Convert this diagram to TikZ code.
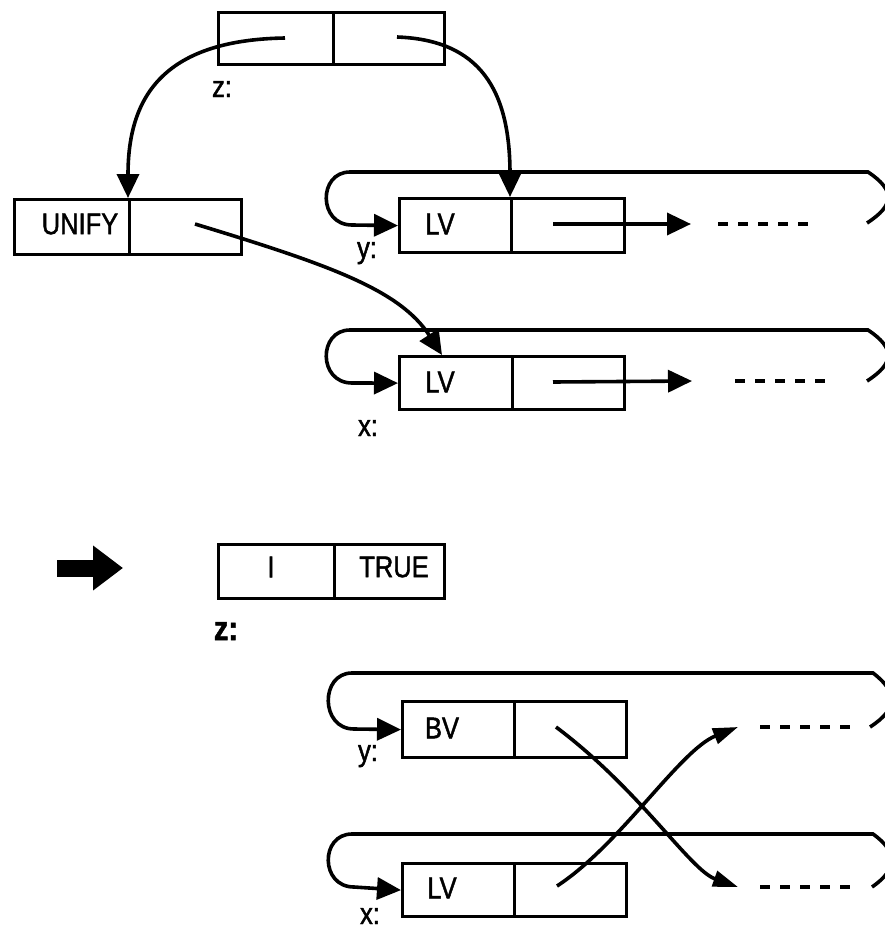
\documentclass[tikz,border=0pt]{standalone}
\usepackage{fontspec}
\setmainfont{Liberation Sans}[FakeStretch=0.85, FakeBold=1.5]
\usetikzlibrary{arrows.meta}
\tikzset{
  cell/.style={draw, line width=3.2pt, inner sep=0pt, anchor=north west},
  lbl/.style={font=\fontsize{30}{32}\selectfont, inner sep=0pt},
  conn/.style={line width=3.6pt, -{Triangle[length=24pt,width=22pt]}},
  thin conn/.style={line width=3.6pt, -{Triangle[length=25pt,width=16pt]}},
  loopline/.style={line width=3.6pt, -{Triangle[length=24pt,width=22pt]}},
  dashline/.style={line width=4.5pt, dash pattern=on 10pt off 10pt},
}
\begin{document}
\begin{tikzpicture}[x=1pt, y=-1pt]
\clip (0,0) rectangle (885,929);
\fill[white] (0,0) rectangle (885,929);

% ---- cells ----
\node[cell, minimum width=115pt, minimum height=52pt] (zL) at (217,11) {};
\node[cell, minimum width=111pt, minimum height=52pt] (zR) at (332,11) {};
\node[cell, minimum width=115pt, minimum height=55pt] (uL) at (13,198) {};
\node[cell, minimum width=112pt, minimum height=55pt] (uR) at (128,198) {};
\node[cell, minimum width=112pt, minimum height=54pt] (yL) at (398,197) {};
\node[cell, minimum width=113pt, minimum height=54pt] (yR) at (510,197) {};
\node[cell, minimum width=113pt, minimum height=53pt] (xL) at (398,355) {};
\node[cell, minimum width=112pt, minimum height=53pt] (xR) at (511,355) {};
\node[cell, minimum width=116pt, minimum height=54pt] (tL) at (217,543) {};
\node[cell, minimum width=110pt, minimum height=54pt] (tR) at (333,543) {};
\node[cell, minimum width=112pt, minimum height=56pt] (bL) at (401,700) {};
\node[cell, minimum width=112pt, minimum height=56pt] (bR) at (513,700) {};
\node[cell, minimum width=112pt, minimum height=53pt] (lL) at (401,862) {};
\node[cell, minimum width=112pt, minimum height=53pt] (lR) at (513,862) {};

% ---- texts ----
\node[lbl] (tUnify) at (80,224) {UNIFY};
\node[lbl] (tLVy) at (440,224) {LV};
\node[lbl] (tLVx) at (440,382) {LV};
\node[lbl] (tI) at (271,567) {I};
\node[lbl] (tTrue) at (394,567) {TRUE};
\node[lbl] (tBV) at (442,728) {BV};
\node[lbl] (tLVb) at (442,888) {LV};

\node[lbl, anchor=base] (lz1) at (222,97) {z:};
\node[lbl, anchor=base] (ly1) at (367,258) {y:};
\node[lbl, anchor=base] (lx1) at (368,436) {x:};
\node[font=\fontsize{34}{36}\selectfont\bfseries, inner sep=0pt, anchor=base] (lz2) at (226,640) {z:};
\node[lbl, anchor=base] (ly2) at (368,761) {y:};
\node[lbl, anchor=base] (lx2) at (370,924) {x:};

% ---- coordinates ----
\coordinate (zLs) at (285,38);
\coordinate (zRs) at (397,37);
\coordinate (uRs) at (195,224);
\coordinate (xTgt) at (442,355);
\coordinate (yRs) at (553,224);
\coordinate (yRe) at (691,224);
\coordinate (xRs) at (553,382);
\coordinate (xRe) at (692,381);
\coordinate (bRs) at (556,727);
\coordinate (bRe) at (738,887);
\coordinate (lRs) at (557,886);
\coordinate (lRe) at (738,727);
\coordinate (bigS) at (57,568);
\coordinate (bigE) at (123,568);

% loops: y row
\coordinate (yR1) at (867,223); \coordinate (yR2) at (868,172);
\coordinate (yT) at (350,172);  \coordinate (yB) at (352,225);
\draw[loopline] (yR1) .. controls (895,205) and (895,190) .. (yR2) -- (yT)
  .. controls (318,172) and (318,225) .. (yB) -- (yL.west);
% x row
\coordinate (xR1) at (867,381); \coordinate (xR2) at (868,330);
\coordinate (xT) at (350,330);  \coordinate (xB) at (352,383);
\draw[loopline] (xR1) .. controls (895,363) and (895,348) .. (xR2) -- (xT)
  .. controls (318,330) and (318,383) .. (xB) -- (xL.west);
% BV row
\coordinate (bR1) at (870,727); \coordinate (bR2) at (873,673);
\coordinate (bT) at (352,673);  \coordinate (bB) at (354,729);
\draw[loopline] (bR1) .. controls (898,709) and (898,692) .. (bR2) -- (bT)
  .. controls (320,673) and (320,729) .. (bB) -- (bL.west);
% LV bottom row
\coordinate (lR1) at (872,887); \coordinate (lR2) at (873,834);
\coordinate (lT) at (352,834);  \coordinate (lB) at (354,887);
\draw[loopline] (lR1) .. controls (898,869) and (898,852) .. (lR2) -- (lT)
  .. controls (320,834) and (320,887) .. (lB) -- (lL.west);

% ---- connectors ----
\draw[conn] (zLs) .. controls (160,40) and (128,100) .. (uR.north west);
\draw[conn] (zRs) .. controls (480,40) and (510,90) .. (yR.north west);
\draw[conn] (uRs) .. controls (330,265) and (400,290) .. (xTgt);
\draw[conn] (yRs) -- (yRe);
\draw[conn] (xRs) -- (xRe);
\draw[thin conn] (bRs) .. controls (640,790) and (690,870) .. (bRe);
\draw[thin conn] (lRs) .. controls (620,845) and (680,750) .. (lRe);

% ---- dashes ----
\coordinate (yd1) at (718,224); \coordinate (yd2) at (808,224);
\coordinate (xd1) at (735,381); \coordinate (xd2) at (827,381);
\coordinate (bd1) at (760,727); \coordinate (bd2) at (852,727);
\coordinate (ld1) at (760,887); \coordinate (ld2) at (852,887);
\draw[dashline] (yd1) -- (yd2);
\draw[dashline] (xd1) -- (xd2);
\draw[dashline] (bd1) -- (bd2);
\draw[dashline] (ld1) -- (ld2);

% ---- big arrow ----
\draw[line width=17pt, -{Triangle[length=30pt,width=43pt]}] (bigS) -- (bigE);
\end{tikzpicture}
\end{document}
